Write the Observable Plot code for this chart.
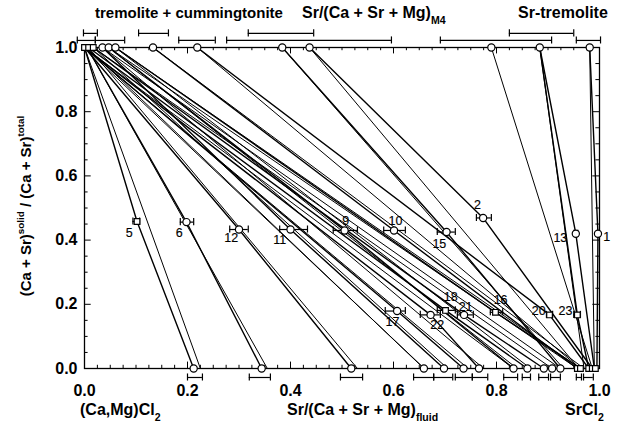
<!DOCTYPE html>
<html><head><meta charset="utf-8">
<script src="https://cdn.jsdelivr.net/npm/d3@7"></script>
<script src="https://cdn.jsdelivr.net/npm/@observablehq/plot@0.6"></script>
<style>body{margin:0;background:#fff}</style>
</head><body><div id="chart"></div>
<script>
// labelled experiments
const labels = ["1","2","5","6","9","10","11","12","13","15","16","17","18","20","21","22","23"];
const solidX = [0.981,0.437,0.000,0.005,0.047,0.133,0.035,0.000,0.884,0.384,0.060,0.000,0.008,0.219,0.017,0.000,0.884];
const fluidX = [0.995,0.986,0.212,0.344,0.833,0.957,0.698,0.518,0.990,0.924,0.963,0.736,0.860,0.979,0.892,0.766,0.979];
const bulkX  = [0.997,0.774,0.102,0.198,0.505,0.601,0.400,0.300,0.954,0.703,0.798,0.607,0.701,0.903,0.737,0.672,0.957];
const bulkY  = [0.420,0.469,0.458,0.456,0.430,0.430,0.433,0.433,0.420,0.425,0.175,0.179,0.181,0.167,0.167,0.167,0.167];
const bulkLo = [0.997,0.761,0.094,0.186,0.483,0.581,0.379,0.282,0.950,0.685,0.788,0.584,0.685,0.897,0.724,0.652,0.950];
const bulkHi = [0.997,0.790,0.107,0.212,0.530,0.623,0.433,0.318,0.958,0.720,0.812,0.623,0.720,0.909,0.755,0.691,0.963];
const bulkShape = ["circle","circle","square","circle","circle","circle","circle","circle","circle","circle","square","circle","square","square","circle","circle","square"];
const labelX = [1.014,0.763,0.087,0.184,0.507,0.604,0.379,0.285,0.924,0.689,0.808,0.598,0.711,0.882,0.740,0.685,0.934];
const labelY = [0.411,0.508,0.421,0.421,0.461,0.458,0.399,0.405,0.408,0.389,0.212,0.146,0.224,0.178,0.193,0.134,0.178];

// unlabelled tie lines
const extraTop    = [0.000,0.005,0.005,0.017,0.000,0.035,0.047,0.060,0.000,0.017,0.035,0.047,0.060,0.133,0.219,0.384,0.437,0.790,0.884,0.981,0.008,0.000];
const extraBottom = [0.225,0.355,0.659,0.705,0.745,0.775,0.840,0.866,0.833,0.908,0.924,0.957,0.963,0.970,0.963,0.930,0.960,0.986,0.970,0.990,0.530,0.660];

// end-member markers
const topX = [0.000,0.008,0.017,0.035,0.047,0.060,0.133,0.219,0.384,0.437,0.790,0.884,0.981];
const topShape = ["square","square","square","circle","circle","circle","circle","circle","circle","circle","circle","circle","circle"];
const bottomX = [0.212,0.344,0.518,0.659,0.698,0.736,0.766,0.833,0.860,0.892,0.908,0.924,0.957,0.963,0.979,0.986,0.992];
const bottomShape = ["circle","circle","circle","circle","circle","circle","circle","circle","circle","circle","circle","circle","square","square","square","square","square"];

// error bars of end members
const topBarLo = [-0.002,-0.014,0.021,0.105,0.183,0.318,0.276,0.691,0.825,0.955];
const topBarHi = [0.025,0.021,0.078,0.163,0.254,0.445,0.596,0.907,0.950,1.002];
const topBarY  = [1.044,1.022,1.022,1.044,1.022,1.044,1.022,1.022,1.044,1.022];
const botBarLo = [0.200,0.320,0.497,0.639,0.678,0.720,0.753,0.814,0.850,0.882,0.905,0.955,0.969];
const botBarHi = [0.229,0.361,0.540,0.678,0.715,0.753,0.783,0.841,0.866,0.901,0.924,0.965,0.988];
const botBarY = -0.028;

const xTickValues = [0, 0.2, 0.4, 0.6, 0.8, 1.0];
const yTickValues = [0, 0.2, 0.4, 0.6, 0.8, 1.0];

const exps = labels.map((l,i)=>({label:l, s:solidX[i], f:fluidX[i], bx:bulkX[i], by:bulkY[i], lo:bulkLo[i], hi:bulkHi[i], shape:bulkShape[i], lx:labelX[i], ly:labelY[i]}));
const tiePts = exps.flatMap(e => [{k:e.label,x:e.s,y:1},{k:e.label,x:e.bx,y:e.by},{k:e.label,x:e.f,y:0}]);
const extraPts = extraTop.flatMap((t,i)=>[{k:"e"+i,x:t,y:1},{k:"e"+i,x:extraBottom[i],y:0}]);
const tops = topX.map((x,i)=>({x,y:1,shape:topShape[i]}));
const bots = bottomX.map((x,i)=>({x,y:0,shape:bottomShape[i]}));
const topBars = topBarLo.map((lo,i)=>({lo,hi:topBarHi[i],y:topBarY[i]}));
const botBars = botBarLo.map((lo,i)=>({lo,hi:botBarHi[i],y:botBarY}));
const bulkBars = exps.filter(e=>e.hi>e.lo);
const caps = a => a.flatMap(b=>[{x:b.lo,y:b.y??b.by},{x:b.hi,y:b.y??b.by}]);

const xMinor = d3.range(0, 1.0001, 0.025);
const yMinor = d3.range(0, 1.0001, 0.05);
const isMajor = v => Math.abs(v*5 - Math.round(v*5)) < 1e-6;

const font = "'Liberation Sans', Arial, Helvetica, sans-serif";

const chart = Plot.plot({
  width: 629, height: 433,
  marginLeft: 84, marginRight: 30, marginTop: 47, marginBottom: 65,
  x: {domain:[0,1]}, y: {domain:[0,1]},
  style: {fontFamily: font, fontSize: "16px", fontWeight: "bold", background: "#fff", color: "#000"},
  marks: [
    Plot.line(extraPts, {x:"x", y:"y", z:"k", stroke:"#000", strokeWidth:1}),
    Plot.line(tiePts, {x:"x", y:"y", z:"k", stroke:"#000", strokeWidth:1.4}),
    Plot.frame({stroke:"#000", strokeWidth:1.3}),
    // inward ticks
    Plot.ruleX(xMinor, {x:d=>d, y1:0, y2:d=>isMajor(d)?0.02:0.01, stroke:"#000"}),
    Plot.ruleX(xMinor, {x:d=>d, y1:1, y2:d=>isMajor(d)?0.98:0.99, stroke:"#000"}),
    Plot.ruleY(yMinor, {y:d=>d, x1:0, x2:d=>isMajor(d)?0.013:0.007, stroke:"#000"}),
    Plot.ruleY(yMinor, {y:d=>d, x1:1, x2:d=>isMajor(d)?0.987:0.993, stroke:"#000"}),
    Plot.axisX({ticks:xTickValues, tickSize:0, tickPadding:16, tickFormat:d3.format(".1f"), label:null}),
    Plot.axisY({ticks:yTickValues, tickSize:0, tickPadding:7, tickFormat:d3.format(".1f"), label:null}),
    // error bars
    Plot.ruleY(topBars, {y:"y", x1:"lo", x2:"hi", stroke:"#000", strokeWidth:1.2}),
    Plot.ruleY(botBars, {y:"y", x1:"lo", x2:"hi", stroke:"#000", strokeWidth:1.2}),
    Plot.ruleY(bulkBars, {y:"by", x1:"lo", x2:"hi", stroke:"#000", strokeWidth:1.2}),
    Plot.ruleX(caps(topBars).concat(caps(botBars), caps(bulkBars)), {x:"x", y1:d=>d.y-0.011, y2:d=>d.y+0.011, stroke:"#000", strokeWidth:1.2}),
    // markers
    Plot.dot(tops.concat(bots), {x:"x", y:"y", filter:d=>d.shape==="circle", r:3.6, fill:"#fff", stroke:"#000", strokeWidth:1.2}),
    Plot.dot(tops.concat(bots), {x:"x", y:"y", filter:d=>d.shape==="square", symbol:"square", r:3.2, fill:"#fff", stroke:"#000", strokeWidth:1.2}),
    Plot.dot(exps, {x:"bx", y:"by", filter:d=>d.shape==="circle", r:3.6, fill:"#fff", stroke:"#000", strokeWidth:1.2}),
    Plot.dot(exps, {x:"bx", y:"by", filter:d=>d.shape==="square", symbol:"square", r:3.2, fill:"#fff", stroke:"#000", strokeWidth:1.2}),
    Plot.text(exps, {x:"lx", y:"ly", text:"label", fontSize:12.5, fontWeight:"normal", fill:"#000", stroke:"#000", strokeWidth:0.15})
  ]
});
document.getElementById("chart").appendChild(chart);

// annotation texts with sub/superscripts
const svg = d3.select(chart);
const g = svg.append("g").attr("font-family", font).attr("font-weight","bold").attr("fill","#000").attr("text-anchor","start");
function rich(x, y, parts, size, rotate) {
  const t = g.append("text").attr("x", x).attr("y", y).attr("font-size", size);
  if (rotate) t.attr("transform", `rotate(-90 ${x} ${y})`).attr("text-anchor","middle");
  parts.forEach(p => {
    const s = t.append("tspan").text(p.t);
    if (p.sub) s.attr("font-size", size*0.66).attr("dy", size*0.4);
    if (p.sup) s.attr("font-size", size*0.66).attr("dy", -size*0.45);
    if (p.back) s.attr("dy", p.back);
  });
  return t;
}
rich(95, 18, [{t:"tremolite + cummingtonite"}], 15);
rich(302, 18, [{t:"Sr/(Ca + Sr + Mg)"},{t:"M4", sub:true}], 16);
rich(518, 18, [{t:"Sr-tremolite"}], 16);
rich(80, 415, [{t:"(Ca,Mg)Cl"},{t:"2", sub:true}], 16);
rich(287, 415, [{t:"Sr/(Ca + Sr + Mg)"},{t:"fluid", sub:true}], 16);
rich(565, 415, [{t:"SrCl"},{t:"2", sub:true}], 16);
rich(31, 206, [{t:"(Ca + Sr)"},{t:"solid", sup:true},{t:" / (Ca + Sr)", back:15*0.45},{t:"total", sup:true}], 15, true);
</script>
</body></html>
